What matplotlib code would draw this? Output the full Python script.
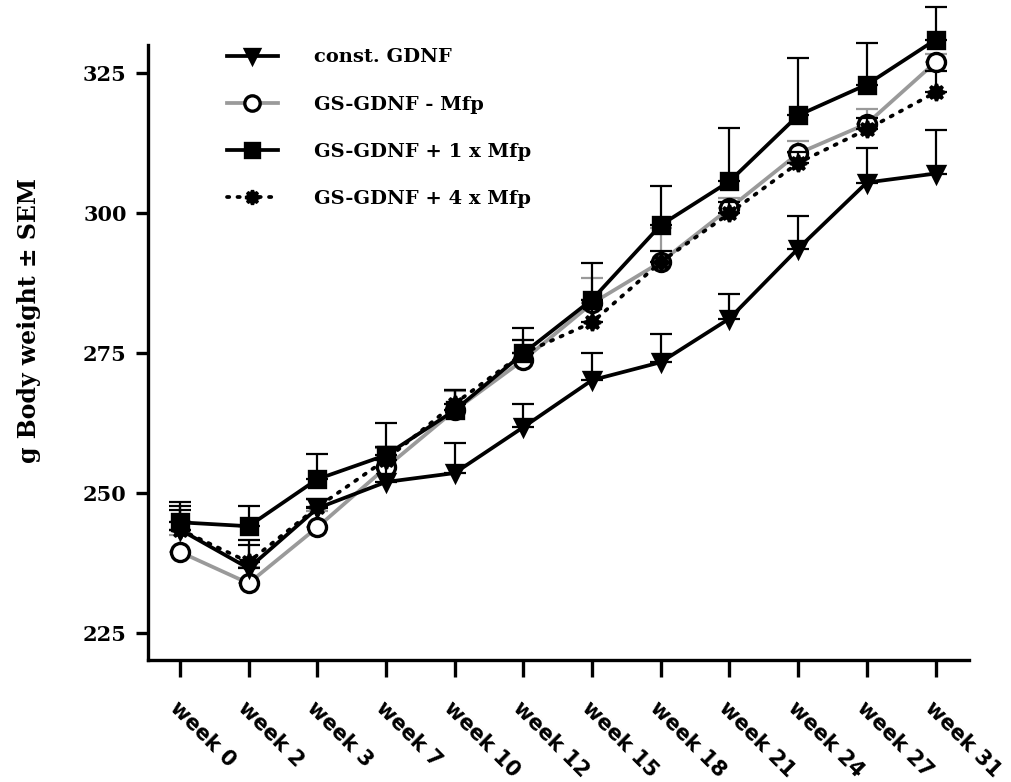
import numpy as np
import matplotlib
matplotlib.use('Agg')
import matplotlib.pyplot as plt

# 데이터
weeks = ['week 0', 'week 2', 'week 3', 'week 7', 'week 10', 'week 12',
         'week 15', 'week 18', 'week 21', 'week 24', 'week 27', 'week 31']

const_gdnf = [243.5, 236.6, 247.3, 252.0, 253.6, 261.8, 270.2, 273.4, 281.2, 293.7, 305.5, 307.1]
const_gdnf_err = [4.2, 4.1, 1.7, 6.2, 5.4, 4.1, 4.8, 5.0, 4.3, 5.8, 6.1, 7.7]

gs_minus = [239.5, 233.9, 243.9, 254.6, 264.8, 273.8, 283.9, 291.3, 300.9, 310.7, 316.0, 327.0]
gs_minus_err = [3.0, 3.0, 3.0, 3.5, 3.5, 3.5, 4.5, 6.0, 1.8, 2.3, 2.7, 1.5]

gs_1x = [244.8, 244.1, 252.5, 256.8, 264.8, 275.0, 284.6, 297.9, 305.7, 317.5, 323.0, 331.0]
gs_1x_err = [3.6, 3.6, 4.5, 5.7, 3.6, 4.5, 6.5, 6.9, 9.5, 10.2, 7.5, 5.8]

gs_4x = [243.5, 237.7, 247.5, 256.0, 266.0, 275.0, 280.5, 291.3, 300.0, 309.0, 315.0, 321.6]
gs_4x_err = [3.5, 3.9, 1.5, 2.2, 2.4, 2.3, 4.0, 2.0, 2.0, 2.0, 2.0, 3.8]

labels = ['const. GDNF', 'GS-GDNF - Mfp', 'GS-GDNF + 1 x Mfp', 'GS-GDNF + 4 x Mfp']

serif = ['DejaVu Serif']
x = np.arange(len(weeks))

fig = plt.figure(figsize=(10.11, 7.82), dpi=100)
ax = fig.add_axes([0.146, 0.156, 0.812, 0.786])


def draw(vals, errs, color, marker, mfc, ms, ls, label, z):
    vals = np.array(vals)
    errs = np.array(errs)
    eb = ax.errorbar(x, vals, yerr=[np.zeros_like(errs), errs], fmt='none',
                     ecolor=color, elinewidth=1.6, capsize=8, capthick=1.6,
                     zorder=z)
    for art in eb.lines[1] + eb.lines[2]:
        art.set_clip_on(False)
    line, = ax.plot(x, vals, color=color, lw=2.7, ls=ls, marker=marker,
                    mfc=mfc, mec='black', mew=2.4, ms=ms, label=label,
                    zorder=z + 0.5, dash_capstyle='round', clip_on=False)
    return line


h2 = draw(gs_minus, gs_minus_err, '#9a9a9a', 'o', 'white', 13, '-', labels[1], 2)
h1 = draw(const_gdnf, const_gdnf_err, 'black', 'v', 'black', 12, '-', labels[0], 3)
h3 = draw(gs_1x, gs_1x_err, 'black', 's', 'black', 12, '-', labels[2], 4)
h4 = draw(gs_4x, gs_4x_err, 'black', (8, 1, 0), 'black', 12, (0, (0.6, 2.2)), labels[3], 5)

ax.set_xlim(-0.47, 11.48)
ax.set_ylim(220.2, 330)
ax.set_yticks([225, 250, 275, 300, 325])
ax.set_xticks(x)
ax.set_xticklabels(weeks, rotation=-45, ha='left', va='top',
                   rotation_mode='anchor', fontsize=15, fontweight='bold',
                   family='DejaVu Sans')
for t in ax.get_yticklabels():
    t.set_family(serif)
    t.set_fontweight('bold')
    t.set_fontsize(15)

for s in ['top', 'right']:
    ax.spines[s].set_visible(False)
for s in ['left', 'bottom']:
    ax.spines[s].set_linewidth(2.4)
ax.tick_params(axis='y', length=9, width=2.4, pad=6)
ax.tick_params(axis='x', length=12, width=2.4, pad=15)

ax.set_ylabel('g Body weight ± SEM', family=serif, fontweight='bold',
              fontsize=17)
ax.yaxis.set_label_coords(-0.13, 0.553)

leg = fig.legend(handles=[h1, h2, h3, h4], loc='upper left',
                 bbox_to_anchor=(0.2245, 0.938), frameon=False,
                 prop={'family': serif, 'weight': 'bold', 'size': 14},
                 labelspacing=1.5, handlelength=2.6, handletextpad=1.9,
                 borderpad=0, borderaxespad=0, markerscale=0.85)

fig.savefig('out.png', dpi=100)
